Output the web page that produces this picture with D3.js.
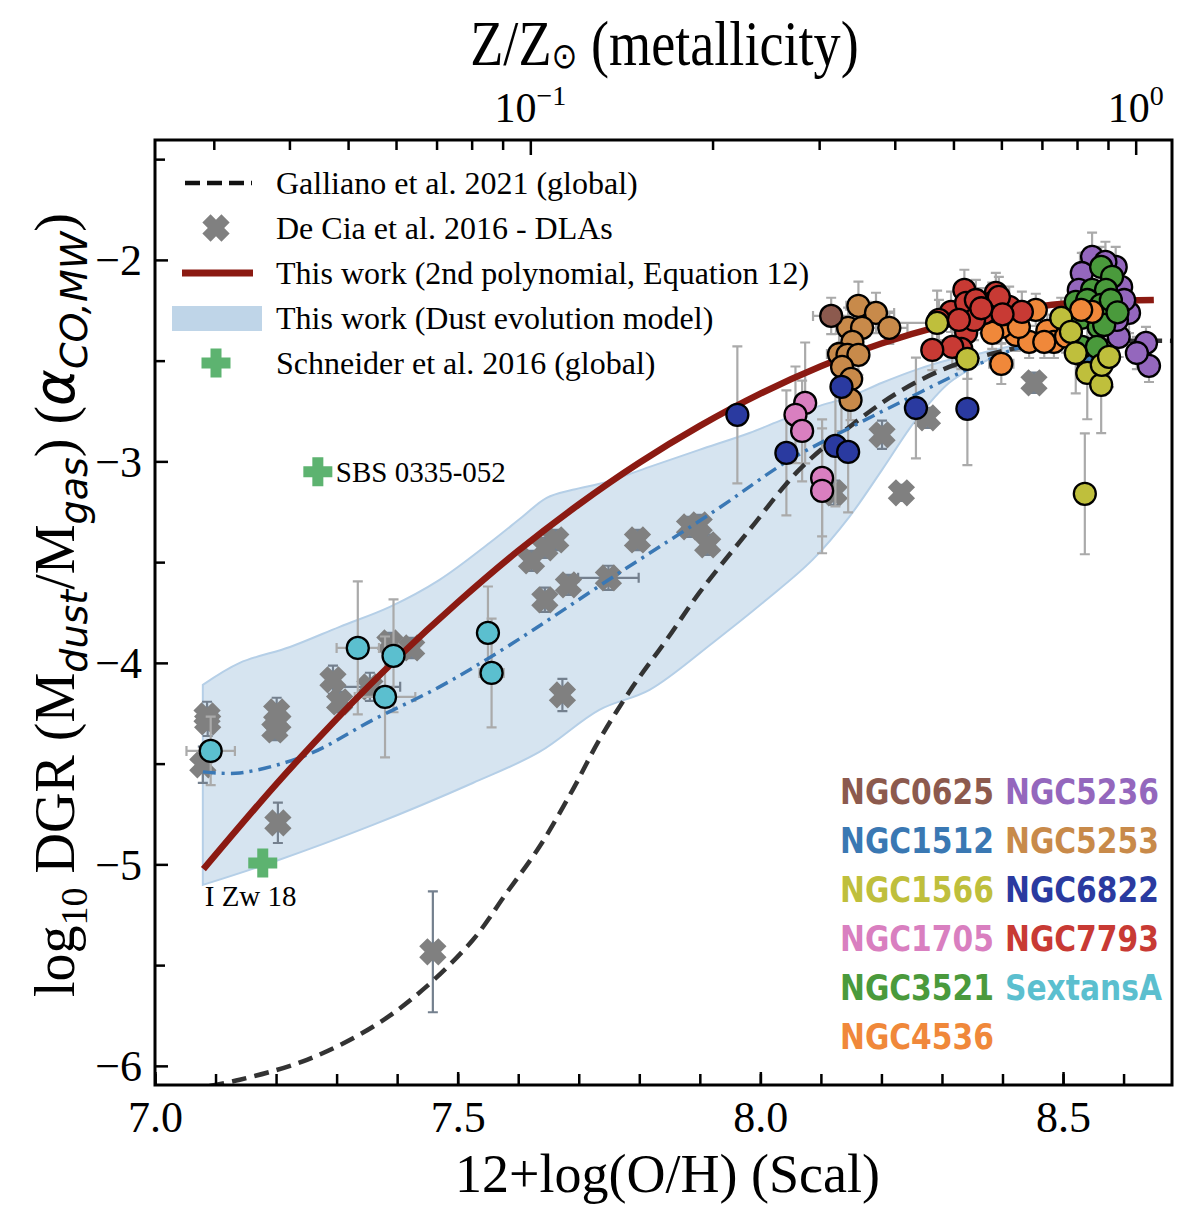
<!DOCTYPE html>
<html>
<head>
<meta charset="utf-8">
<script src="https://cdn.jsdelivr.net/npm/d3@7"></script>
<style>
  body { margin: 0; background: #fff; }
  svg text { font-family: "Liberation Serif", "Times New Roman", serif; fill: #000; }
</style>
</head>
<body>
<div id="chart"></div>
<script>
// ---------- data : x = 12+log(O/H), y = log10 DGR ----------
const ZSUN_OH = 8.62;

const ohMajor = [7.0, 7.5, 8.0, 8.5];
const dgrMajor = [-6, -5, -4, -3, -2];
const dgrMinor = [-5.5, -4.5, -3.5, -2.5, -1.5];
const zMajor = [0.1, 1];
const zMinor = [0.03, 0.04, 0.05, 0.06, 0.07, 0.08, 0.09, 0.2, 0.3, 0.4, 0.5, 0.6, 0.7, 0.8, 0.9];

// Galliano et al. 2021 relation
const galliano = [[7.09,-6.10],[7.14,-6.069],[7.251,-5.97],[7.36,-5.806],[7.442,-5.623],[7.525,-5.375],
  [7.581,-5.141],[7.635,-4.913],[7.69,-4.63],[7.734,-4.382],[7.789,-4.119],[7.845,-3.886],[7.899,-3.653],
  [7.982,-3.34],[8.064,-3.042],[8.147,-2.829],[8.229,-2.655],[8.312,-2.531],[8.394,-2.457],[8.477,-2.412],
  [8.559,-2.402],[8.682,-2.402]];

// this work, 2nd order polynomial
const polyFit = [[7.08,-5.024],[7.2,-4.603],[7.3,-4.278],[7.4,-3.977],[7.5,-3.70],[7.6,-3.444],[7.7,-3.214],
  [7.8,-3.007],[7.9,-2.824],[8.0,-2.664],[8.1,-2.528],[8.2,-2.415],[8.3,-2.326],[8.4,-2.26],[8.5,-2.218],[8.65,-2.199]];

// dust evolution model: median and envelope
const modelMedian = [[7.079,-4.541],[7.14,-4.546],[7.251,-4.457],[7.36,-4.283],[7.47,-4.119],[7.581,-3.921],
  [7.767,-3.553],[7.927,-3.241],[8.043,-3.002],[8.119,-2.878],[8.229,-2.71],[8.34,-2.546],[8.416,-2.447],[8.46,-2.407]];
const modelUpper = [[7.079,-4.109],[7.14,-4.0],[7.223,-3.921],[7.305,-3.821],[7.388,-3.722],[7.47,-3.588],
  [7.553,-3.404],[7.607,-3.275],[7.647,-3.181],[7.69,-3.141],[7.746,-3.102],[7.817,-3.027],[7.899,-2.943],
  [7.982,-2.859],[8.036,-2.794],[8.092,-2.73],[8.147,-2.68],[8.201,-2.61],[8.257,-2.546],[8.312,-2.496],
  [8.366,-2.462],[8.422,-2.422],[8.46,-2.407]];
const modelLower = [[7.079,-5.102],[7.195,-4.988],[7.36,-4.804],[7.525,-4.596],[7.635,-4.442],[7.734,-4.233],
  [7.817,-4.134],[7.921,-3.901],[8.01,-3.687],[8.086,-3.489],[8.147,-3.275],[8.201,-3.042],[8.257,-2.794],
  [8.312,-2.61],[8.366,-2.511],[8.422,-2.437],[8.46,-2.407]];

// De Cia et al. 2016 DLAs : [x, y, xerr, yerr]
const deCia = [[7.086,-4.263,0,0.07],[7.087,-4.293,0,0.07],[7.079,-4.506,0,0.09],[7.201,-4.243,0,0.07],
  [7.203,-4.293,0,0.07],[7.198,-4.333,0,0.05],[7.203,-4.794,0,0.1],[7.294,-4.084,0,0.07],[7.305,-4.194,0,0.05],
  [7.355,-4.119,0.05,0.07],[7.388,-3.901,0,0.05],[7.424,-3.926,0,0.05],[7.459,-5.434,0,0.3],[7.673,-4.159,0,0.08],
  [7.622,-3.494,0,0.05],[7.644,-3.429,0,0.05],[7.662,-3.39,0,0.05],[7.683,-3.613,0,0.05],[7.644,-3.687,0,0.06],
  [7.749,-3.578,0.05,0.06],[7.797,-3.39,0,0.05],[7.883,-3.325,0,0.05],[7.899,-3.315,0,0.05],[7.913,-3.414,0,0.05],
  [8.201,-2.868,0,0.07],[8.276,-2.784,0,0.05],[8.233,-3.156,0,0.04],[8.122,-3.156,0,0.06],[8.452,-2.61,0,0.05]];

// Schneider et al. 2016
const schneiderX = [7.269, 7.178];
const schneiderY = [-3.052, -4.993];
const schneiderNames = ["SBS 0335-052", "I Zw 18"];

// galaxies of this work : [x, y, xerr, yerr]
const galaxyNames = ["NGC0625","NGC1512","NGC1566","NGC1705","NGC3521","NGC4536",
                     "NGC5236","NGC5253","NGC6822","NGC7793","SextansA"];
const ngc0625 = [[8.117,-2.278,0.03,0.09]];
const ngc1512 = [[8.536,-2.48,0,0.1],[8.552,-2.5,0,0.1]];
const ngc1566 = [[8.292,-2.313,0.07,0.16],[8.342,-2.491,0,0.1],[8.497,-2.288,0,0.1],[8.513,-2.357,0,0.12],
  [8.521,-2.462,0,0.2],[8.54,-2.561,0,0.23],[8.563,-2.62,0,0.24],[8.564,-2.521,0,0.15],[8.576,-2.481,0,0.15],
  [8.536,-3.161,0,0.3]];
const ngc1705 = [[8.074,-2.71,0,0.3],[8.058,-2.769,0,0.24],[8.069,-2.849,0,0.25],[8.102,-3.082,0,0.29],[8.102,-3.146,0,0.31]];
const ngc3521 = [[8.563,-2.035,0,0.1],[8.581,-2.084,0,0.1],[8.548,-2.149,0,0.1],[8.571,-2.149,0,0.1],
  [8.521,-2.208,0,0.1],[8.54,-2.199,0,0.1],[8.563,-2.223,0,0.1],[8.53,-2.288,0,0.1],[8.559,-2.333,0,0.1],
  [8.531,-2.432,0,0.1],[8.556,-2.432,0,0.1],[8.568,-2.323,0,0.1],[8.579,-2.199,0,0.1],[8.59,-2.26,0,0.1]];
const ngc4536 = [[8.455,-2.248,0,0.08],[8.422,-2.372,0,0.08],[8.444,-2.407,0,0.08],[8.474,-2.352,0,0.08],
  [8.485,-2.407,0,0.08],[8.398,-2.516,0.02,0.1],[8.548,-2.258,0,0.08],[8.53,-2.248,0,0.08],[8.398,-2.333,0,0.08],
  [8.383,-2.362,0,0.08],[8.427,-2.333,0,0.08],[8.469,-2.407,0,0.08],[8.505,-2.38,0,0.08]];
const ngc5236 = [[8.548,-1.985,0.02,0.12],[8.531,-2.065,0,0.1],[8.587,-2.035,0,0.1],[8.596,-2.134,0,0.1],
  [8.604,-2.258,0,0.1],[8.609,-2.263,0,0.1],[8.592,-2.382,0,0.1],[8.637,-2.412,0,0.08],[8.642,-2.526,0,0.08],
  [8.622,-2.462,0,0.08],[8.526,-2.149,0,0.1],[8.601,-2.199,0,0.1],[8.589,-2.298,0,0.1],[8.57,-2.01,0,0.1]];
const ngc5253 = [[8.162,-2.228,0.02,0.12],[8.191,-2.263,0.03,0.1],[8.145,-2.337,0.02,0.1],[8.168,-2.337,0,0.1],
  [8.213,-2.337,0.03,0.08],[8.152,-2.407,0,0.1],[8.13,-2.467,0.02,0.1],[8.144,-2.471,0,0.1],[8.162,-2.471,0,0.1],
  [8.135,-2.531,0,0.08],[8.15,-2.591,0,0.1],[8.149,-2.695,0,0.1]];
const ngc6822 = [[7.962,-2.769,0,0.34],[8.043,-2.958,0,0.31],[8.134,-2.63,0,0.22],[8.124,-2.923,0,0.3],
  [8.145,-2.953,0,0.3],[8.257,-2.735,0,0.25],[8.342,-2.739,0,0.28]];
const ngc7793 = [[8.337,-2.149,0,0.1],[8.315,-2.258,0,0.1],[8.34,-2.213,0,0.1],[8.37,-2.263,0,0.1],
  [8.389,-2.164,0,0.1],[8.411,-2.233,0,0.1],[8.432,-2.258,0,0.1],[8.34,-2.362,0,0.1],[8.332,-2.442,0,0.1],
  [8.317,-2.432,0,0.1],[8.383,-2.213,0,0.1],[8.356,-2.199,0,0.1],[8.394,-2.184,0,0.1],[8.295,-2.298,0,0.1],
  [8.353,-2.298,0,0.1],[8.328,-2.298,0,0.1],[8.284,-2.447,0,0.1],[8.365,-2.24,0,0.1],[8.4,-2.27,0,0.1]];
const sextansA = [[7.092,-4.437,0.04,0.17],[7.335,-3.926,0.035,0.33],[7.394,-3.965,0,0.28],[7.38,-4.169,0.05,0.3],
  [7.55,-3.851,0,0.23],[7.556,-4.05,0.02,0.27]];

const legendLabels = ["Galliano et al. 2021 (global)", "De Cia et al. 2016 - DLAs",
  "This work (2nd polynomial, Equation 12)", "This work (Dust evolution model)", "Schneider et al. 2016 (global)"];

// ---------- styles ----------
const galaxyPoints = {NGC0625: ngc0625, NGC1512: ngc1512, NGC1566: ngc1566, NGC1705: ngc1705, NGC3521: ngc3521,
  NGC4536: ngc4536, NGC5236: ngc5236, NGC5253: ngc5253, NGC6822: ngc6822, NGC7793: ngc7793, SextansA: sextansA};
const galaxyColor = {NGC0625: "#8c5a4e", NGC1512: "#3a78b3", NGC1566: "#bfbf3c", NGC1705: "#d97fc0",
  NGC3521: "#4a9a3c", NGC4536: "#f0883a", NGC5236: "#9467bd", NGC5253: "#c88a4a", NGC6822: "#2a3aa0",
  NGC7793: "#c83a34", SextansA: "#5bbfcf"};
const drawOrder = ["NGC5236","NGC1512","NGC3521","NGC4536","NGC7793","NGC1566","NGC5253","NGC0625",
                   "NGC1705","NGC6822","SextansA"];

const W = 1204, H = 1224;
const M = {left: 155, right: 1172, top: 140, bottom: 1085};

const x = d3.scaleLinear().domain([7.0, 8.68]).range([M.left, M.right]);
const y = d3.scaleLinear().domain([-6.095, -1.405]).range([M.bottom, M.top]);
const z = d3.scaleLog().domain([Math.pow(10, 7.0 - ZSUN_OH), Math.pow(10, 8.68 - ZSUN_OH)]).range([M.left, M.right]);

const svg = d3.select("#chart").append("svg").attr("width", W).attr("height", H);

svg.append("defs").append("clipPath").attr("id", "clip").append("rect")
  .attr("x", M.left).attr("y", M.top).attr("width", M.right - M.left).attr("height", M.bottom - M.top);

const plot = svg.append("g").attr("clip-path", "url(#clip)");

const line = d3.line().x(d => x(d[0])).y(d => y(d[1])).curve(d3.curveCatmullRom.alpha(0.5));

// model envelope
var bandPath = line(modelUpper) + line(modelLower.slice().reverse()).replace(/^M/, "L") + "Z";
plot.append("path").attr("d", bandPath)
  .attr("fill", "#d6e4f0").attr("stroke", "#b5cfe7").attr("stroke-width", 2);

// marker shapes
function plusPath(L, w) {
  return `M${-w},${-L}H${w}V${-w}H${L}V${w}H${w}V${L}H${-w}V${w}H${-L}V${-w}H${-w}Z`;
}
const xMarker = plusPath(13.5, 5.8);
const pMarker = plusPath(14.5, 5.5);

function errorBars(g, pts, color, width) {
  let cap = 5;
  pts.forEach(d => {
    let cx = x(d[0]), cy = y(d[1]);
    if (d[3] > 0) {
      let y1 = y(d[1] + d[3]), y2 = y(d[1] - d[3]);
      g.append("path").attr("d", `M${cx},${y1}V${y2}M${cx-cap},${y1}H${cx+cap}M${cx-cap},${y2}H${cx+cap}`)
        .attr("stroke", color).attr("stroke-width", width).attr("fill", "none");
    }
    if (d[2] > 0) {
      let x1 = x(d[0] - d[2]), x2 = x(d[0] + d[2]);
      g.append("path").attr("d", `M${x1},${cy}H${x2}M${x1},${cy-cap}V${cy+cap}M${x2},${cy-cap}V${cy+cap}`)
        .attr("stroke", color).attr("stroke-width", width).attr("fill", "none");
    }
  });
}

// DLAs
const dlaErr = plot.append("g");
errorBars(dlaErr, deCia, "#74808e", 2.2);
plot.append("g").selectAll("path").data(deCia).join("path")
  .attr("d", xMarker)
  .attr("transform", d => `translate(${x(d[0])},${y(d[1])}) rotate(45)`)
  .attr("fill", "#808080");

// galaxy error bars (below lines)
const galErr = plot.append("g");
drawOrder.forEach(name => errorBars(galErr, galaxyPoints[name], "#aaaaaa", 2.2));

// curves
plot.append("path").attr("d", line(galliano)).attr("fill", "none")
  .attr("stroke", "#333").attr("stroke-width", 4.5).attr("stroke-dasharray", "15,8");
plot.append("path").attr("d", line(modelMedian)).attr("fill", "none")
  .attr("stroke", "#3a78b5").attr("stroke-width", 3.5).attr("stroke-dasharray", "13,6,3,6");
plot.append("path").attr("d", line(polyFit)).attr("fill", "none")
  .attr("stroke", "#8b1a12").attr("stroke-width", 6.5).attr("stroke-linecap", "butt");

// galaxy markers
drawOrder.forEach(name => {
  plot.append("g").selectAll("circle").data(galaxyPoints[name]).join("circle")
    .attr("cx", d => x(d[0])).attr("cy", d => y(d[1])).attr("r", 11)
    .attr("fill", galaxyColor[name]).attr("stroke", "#000").attr("stroke-width", 2.3);
});

// Schneider points + names
schneiderX.forEach((sx, i) => {
  plot.append("path").attr("d", pMarker)
    .attr("transform", `translate(${x(sx)},${y(schneiderY[i])})`).attr("fill", "#5db370");
});
svg.append("text").attr("x", x(schneiderX[0]) + 18).attr("y", y(schneiderY[0]) + 10)
  .attr("font-size", 29).text(schneiderNames[0]);
svg.append("text").attr("x", x(schneiderX[1]) - 58).attr("y", y(schneiderY[1]) + 43)
  .attr("font-size", 29).text(schneiderNames[1]);

// ---------- axes ----------
function styleAxis(g) {
  g.select(".domain").remove();
  g.selectAll(".tick line").attr("stroke", "#000").attr("stroke-width", 2.5);
  g.selectAll("text").attr("font-family", "Liberation Serif, Times New Roman, serif").attr("fill", "#000");
}

svg.append("g").attr("transform", `translate(0,${M.bottom})`)
  .call(d3.axisBottom(x).tickValues(x.ticks(17)).tickSizeInner(-11).tickSizeOuter(0).tickFormat(""))
  .call(styleAxis);
svg.append("g").attr("transform", `translate(0,${M.bottom})`)
  .call(d3.axisBottom(x).tickValues(ohMajor).tickSizeInner(-13).tickSizeOuter(0).tickFormat(d3.format(".1f")))
  .call(styleAxis)
  .call(g => g.selectAll("text").attr("y", 47).attr("dy", null).attr("font-size", 44));

svg.append("g").attr("transform", `translate(${M.left},0)`)
  .call(d3.axisLeft(y).tickValues(dgrMinor).tickSizeInner(-10).tickSizeOuter(0).tickFormat(""))
  .call(styleAxis);
svg.append("g").attr("transform", `translate(${M.left},0)`)
  .call(d3.axisLeft(y).tickValues(dgrMajor).tickSizeInner(-13).tickSizeOuter(0).tickFormat(d3.format("d")))
  .call(styleAxis)
  .call(g => g.selectAll("text").attr("x", -13).attr("dy", "0.34em").attr("font-size", 44));

svg.append("g").attr("transform", `translate(0,${M.top})`)
  .call(d3.axisTop(z).tickValues(zMinor).tickSizeInner(-10).tickSizeOuter(0).tickFormat(""))
  .call(styleAxis);
svg.append("g").attr("transform", `translate(0,${M.top})`)
  .call(d3.axisTop(z).tickValues(zMajor).tickSizeInner(-15).tickSizeOuter(0).tickFormat(""))
  .call(styleAxis);

// top labels 10^-1, 10^0
const topLab = svg.append("g").selectAll("text").data(zMajor).join("text")
  .attr("x", d => z(d)).attr("y", 122).attr("text-anchor", "middle").attr("font-size", 42);
topLab.append("tspan").text("10");
topLab.append("tspan").attr("dy", -17).attr("font-size", 28).text(d => d === 1 ? "0" : "\u22121");

// frame
svg.append("rect").attr("x", M.left).attr("y", M.top)
  .attr("width", M.right - M.left).attr("height", M.bottom - M.top)
  .attr("fill", "none").attr("stroke", "#000").attr("stroke-width", 3);

// axis titles
svg.append("text").attr("x", (M.left + M.right) / 2 + 4).attr("y", 1192)
  .attr("text-anchor", "middle").attr("font-size", 54).text("12+log(O/H) (Scal)");

const title = svg.append("text").attr("transform", `translate(${(M.left + M.right) / 2 + 1},65) scale(0.86,1)`)
  .attr("text-anchor", "middle").attr("font-size", 63);
title.append("tspan").text("Z/Z");
title.append("tspan").attr("dy", 3).attr("font-size", 36).attr("font-family", "DejaVu Sans").text("\u2299");
title.append("tspan").attr("dy", -3).text(" (metallicity)");

const ylab = svg.append("text").attr("transform", "translate(74,605) rotate(-90)")
  .attr("text-anchor", "middle").attr("font-size", 56);
const sans = "DejaVu Sans";
[
  {t: "log"}, {t: "10", sub: 1}, {t: " DGR (M", up: 1}, {t: "dust", sub: 1, it: 1}, {t: "/M", up: 1},
  {t: "gas", sub: 1, it: 1}, {t: ") (", up: 1}, {t: "\u03b1", it: 1, big: 1}, {t: "CO,MW", sub: 1, it: 1}, {t: ")", up: 1}
].forEach(p => {
  const ts = ylab.append("tspan").text(p.t);
  if (p.sub) ts.attr("dy", 13).attr("font-size", 38);
  if (p.up) ts.attr("dy", -13);
  if (p.it) ts.attr("font-family", sans).attr("font-style", "italic");
});

// ---------- legends ----------
const rowsY = [183, 228, 273, 318, 363];
const leg = svg.append("g");
leg.append("path").attr("d", `M185,${rowsY[0]}H252`).attr("stroke", "#111")
  .attr("stroke-width", 4.5).attr("stroke-dasharray", "15,7");
leg.append("path").attr("d", xMarker).attr("transform", `translate(216,${rowsY[1]}) rotate(45)`).attr("fill", "#808080");
leg.append("path").attr("d", `M182,${rowsY[2]}H253`).attr("stroke", "#8b1a12").attr("stroke-width", 7);
leg.append("rect").attr("x", 172).attr("y", rowsY[3] - 12).attr("width", 90).attr("height", 25).attr("fill", "#bfd5e8");
leg.append("path").attr("d", pMarker).attr("transform", `translate(216,${rowsY[4]})`).attr("fill", "#5db370");
leg.selectAll("text").data(legendLabels).join("text")
  .attr("x", 276).attr("y", (d, i) => rowsY[i] + 11).attr("font-size", 32).text(d => d);

const galLeg = svg.append("g");
galaxyNames.forEach((name, i) => {
  const col = i < 6 ? 0 : 1, row = i < 6 ? i : i - 6;
  galLeg.append("text")
    .attr("transform", `translate(${col ? 1005 : 840},${804 + row * 49}) scale(0.85,1)`)
    .attr("font-weight", "bold").attr("font-size", 35)
    .style("font-family", "DejaVu Sans").style("fill", galaxyColor[name])
    .text(name);
});
</script>
</body>
</html>
